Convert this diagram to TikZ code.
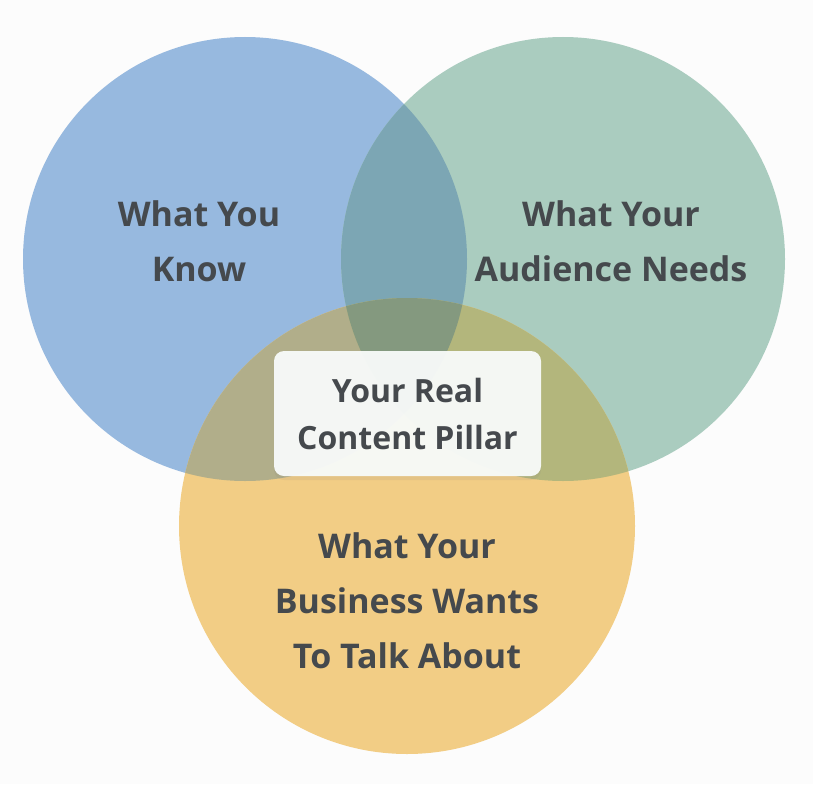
\documentclass[tikz,border=0pt]{standalone}
\usepackage{fontspec}
\setmainfont{Open Sans}
\usetikzlibrary{shadows}
\definecolor{knowblue}{HTML}{97B9DF}
\definecolor{needgreen}{HTML}{AACCBF}
\definecolor{bizyellow}{HTML}{F2CD85}
\definecolor{bluegreen}{HTML}{7CA6B4}
\definecolor{blueyellow}{HTML}{B1AE8A}
\definecolor{greenyellow}{HTML}{B3B67C}
\definecolor{allthree}{HTML}{84997F}
\definecolor{labelgray}{HTML}{45494D}
\tikzstyle{label}=[text=labelgray,align=center,font=\bfseries\fontsize{34}{55}\selectfont]
\tikzstyle{pillar}=[fill=white!92!needgreen,fill opacity=0.95,text opacity=1,rounded corners=10pt,
  minimum width=267pt,minimum height=125pt,text=labelgray,align=center,
  font=\bfseries\fontsize{32}{47}\selectfont,
  drop shadow={opacity=0.12,shadow xshift=0pt,shadow yshift=-4pt}]

\begin{document}
\begin{tikzpicture}[x=1pt,y=-1pt]
\fill[white!99!black] (0,0) rectangle (813,784);
\useasboundingbox (0,0) rectangle (813,784);
\coordinate (cb) at (245, 259);
\coordinate (cg) at (563, 259);
\coordinate (cy) at (407, 526);

\fill[knowblue] (cb) circle[radius=222pt];
\fill[needgreen] (cg) circle[radius=222pt];
\fill[bizyellow] (cy) circle[radius=228pt];
\begin{scope}
\clip (cb) circle[radius=222pt];
\fill[bluegreen] (cg) circle[radius=222pt];
\fill[blueyellow] (cy) circle[radius=228pt];
\end{scope}
\begin{scope}
\clip (cg) circle[radius=222pt];
\fill[greenyellow] (cy) circle[radius=228pt];
\clip (cb) circle[radius=222pt];
\fill[allthree] (cy) circle[radius=228pt];
\end{scope}

\node[label] (know) at (199, 241.5) {What You\\Know};
\node[label] (needs) at (611, 241.5) {What Your\\Audience Needs};
\node[label] (wants) at (407, 601) {What Your\\Business Wants\\To Talk About};
\node[pillar] (pillar) at (407.5, 413.5) {Your Real\\Content Pillar};
\end{tikzpicture}
\end{document}
